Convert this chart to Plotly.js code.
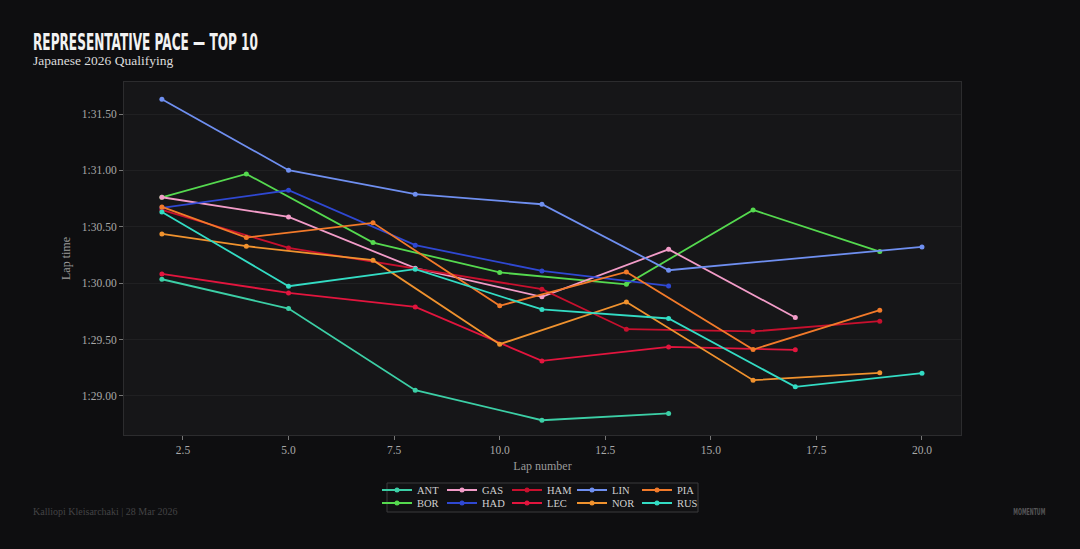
<!DOCTYPE html>
<html>
<head>
<meta charset="utf-8">
<script src="https://cdn.plot.ly/plotly-3.0.1.min.js"></script>
<style>
  html, body { margin: 0; padding: 0; background: #0e0e10; }
  #chart { width: 1080px; height: 549px; }
</style>
</head>
<body>
<div id="chart"></div>
<script>
// ---- data (lap number, lap time in seconds) ----
const drivers = ["ANT","BOR","GAS","HAD","HAM","LEC","LIN","NOR","PIA","RUS"];
const colors  = ["#3ccfa6","#55d94f","#f29cc8","#2f48d2","#c8102e","#e2153e","#6f8ff0","#f0922e","#f27a2a","#33dcc4"];

const antLaps = [2,5,8,11,14];
const antTimes = [90.035, 89.775, 89.051, 88.785, 88.845];
const borLaps = [2,4,7,10,13,16,19];
const borTimes = [90.762, 90.969, 90.360, 90.095, 89.990, 90.650, 90.280];
const gasLaps = [2,5,8,11,14,17];
const gasTimes = [90.762, 90.588, 90.133, 89.879, 90.300, 89.696];
const hadLaps = [2,5,8,11,14];
const hadTimes = [90.668, 90.824, 90.337, 90.109, 89.976];
const hamLaps = [2,5,11,13,16,19];
const hamTimes = [90.650, 90.313, 89.947, 89.592, 89.572, 89.663];
const lecLaps = [2,5,8,11,14,17];
const lecTimes = [90.082, 89.914, 89.790, 89.311, 89.435, 89.409];
const linLaps = [2,5,8,11,14,20];
const linTimes = [91.631, 91.002, 90.789, 90.700, 90.115, 90.322];
const norLaps = [2,4,7,10,13,16,19];
const norTimes = [90.437, 90.328, 90.204, 89.459, 89.834, 89.140, 89.205];
const piaLaps = [2,4,7,10,13,16,19];
const piaTimes = [90.676, 90.405, 90.535, 89.800, 90.100, 89.412, 89.761];
const rusLaps = [2,5,8,11,14,17,20];
const rusTimes = [90.632, 89.973, 90.124, 89.767, 89.687, 89.081, 89.202];

const yTickVals = [89.0, 89.5, 90.0, 90.5, 91.0, 91.5];
const yTickText = ["1:29.00","1:29.50","1:30.00","1:30.50","1:31.00","1:31.50"];

const lapsAll  = [antLaps, borLaps, gasLaps, hadLaps, hamLaps, lecLaps, linLaps, norLaps, piaLaps, rusLaps];
const timesAll = [antTimes, borTimes, gasTimes, hadTimes, hamTimes, lecTimes, linTimes, norTimes, piaTimes, rusTimes];

// first legend row: ANT GAS HAM LIN PIA ; second row: BOR HAD LEC NOR RUS
const legendRow = {ANT:"legend",GAS:"legend",HAM:"legend",LIN:"legend",PIA:"legend",
                   BOR:"legend2",HAD:"legend2",LEC:"legend2",NOR:"legend2",RUS:"legend2"};

const traces = drivers.map((d, i) => ({
  type: "scatter",
  mode: "lines+markers",
  name: d,
  x: lapsAll[i],
  y: timesAll[i],
  line: {color: colors[i], width: 1.8},
  marker: {color: colors[i], size: 5},
  legend: legendRow[d]
}));

const serif = "Liberation Serif, DejaVu Serif, serif";
const condensed = "DejaVu Sans Condensed, Liberation Sans Narrow, sans-serif";
const legendCommon = {
  orientation: "h",
  xref: "container", yref: "container",
  xanchor: "left", yanchor: "middle",
  bgcolor: "rgba(0,0,0,0)",
  borderwidth: 0,
  font: {family: serif, size: 10.5, color: "#d0d0d0"},
  entrywidth: 20, entrywidthmode: "pixels",
  itemwidth: 30,
  traceorder: "normal"
};

const layout = {
  width: 1080, height: 549,
  paper_bgcolor: "#0e0e10",
  plot_bgcolor: "#161618",
  margin: {l: 124, r: 119, t: 82, b: 114},
  showlegend: true,
  xaxis: {
    range: [1.103, 20.924],
    tick0: 2.5, dtick: 2.5, tickformat: ".1f",
    ticks: "outside", ticklen: 4, tickcolor: "#777",
    showgrid: false, zeroline: false,
    showline: true, linecolor: "#2c2c2e", mirror: true,
    tickfont: {family: serif, size: 11.5, color: "#a8a8a8"},
    title: {text: "Lap number", font: {family: serif, size: 12, color: "#9a9a9a"}, standoff: 6}
  },
  yaxis: {
    range: [88.654, 91.784],
    tickvals: yTickVals, ticktext: yTickText,
    ticks: "outside", ticklen: 4, tickcolor: "#777",
    showgrid: true, gridcolor: "#202022", gridwidth: 1,
    zeroline: false,
    showline: true, linecolor: "#2c2c2e", mirror: true,
    tickfont: {family: serif, size: 11.5, color: "#a8a8a8"},
    title: {text: "Lap time", font: {family: serif, size: 12, color: "#9a9a9a"}, standoff: 8}
  },
  legend: Object.assign({}, legendCommon, {x: 377/1080, y: 1 - 490/549}),
  legend2: Object.assign({}, legendCommon, {x: 377/1080, y: 1 - 503/549}),
  shapes: [{
    type: "rect", xref: "paper", yref: "paper",
    x0: (387 - 124) / 837, x1: (698 - 124) / 837,
    y0: -(483 - 435) / 353, y1: -(512 - 435) / 353,
    line: {color: "#3a3a3c", width: 1},
    fillcolor: "rgba(20,20,22,0.6)", layer: "below"
  }],
  annotations: [
    {text: "REPRESENTATIVE PACE — TOP 10", xref: "paper", yref: "paper",
     x: -93/837, y: 1 + (82 - 42) / 353, xanchor: "left", yanchor: "middle", showarrow: false,
     font: {family: condensed, size: 23, color: "#f2f2f2", weight: 700}},
    {text: "Japanese 2026 Qualifying", xref: "paper", yref: "paper",
     x: -93/837, y: 1 + (82 - 61) / 353, xanchor: "left", yanchor: "middle", showarrow: false,
     font: {family: serif, size: 13.5, color: "#dcdcdc"}},
    {text: "Kalliopi Kleisarchaki | 28 Mar 2026", xref: "paper", yref: "paper",
     x: -93/837, y: -(511 - 435) / 353, xanchor: "left", yanchor: "middle", showarrow: false,
     font: {family: serif, size: 10, color: "#434345"}},
    {text: "MOMENTUM", xref: "paper", yref: "paper",
     x: (1047 - 124) / 837, y: -(512 - 435) / 353, xanchor: "right", yanchor: "middle", showarrow: false,
     font: {family: condensed, size: 8, color: "#555557", weight: 700}}
  ]
};

// horizontal squeeze of the condensed display texts (title and watermark), kept as real text
const squeeze = {"REPRESENTATIVE PACE — TOP 10": 225, "MOMENTUM": 32};

Plotly.newPlot("chart", traces, layout, {displayModeBar: false, responsive: false}).then(gd => {
  gd.querySelectorAll(".annotation-text").forEach(t => {
    const w = squeeze[t.textContent];
    if (w) {
      const bb = t.getBBox();
      t.setAttribute("textLength", w);
      t.setAttribute("lengthAdjust", "spacingAndGlyphs");
      const x = parseFloat(t.getAttribute("x")) || 0;
      if (t.textContent === "MOMENTUM") {
        t.setAttribute("x", x + (bb.width - w) / 2);
      } else {
        t.setAttribute("x", x - (bb.width - w) / 2);
      }
    }
  });
});
</script>
</body>
</html>
